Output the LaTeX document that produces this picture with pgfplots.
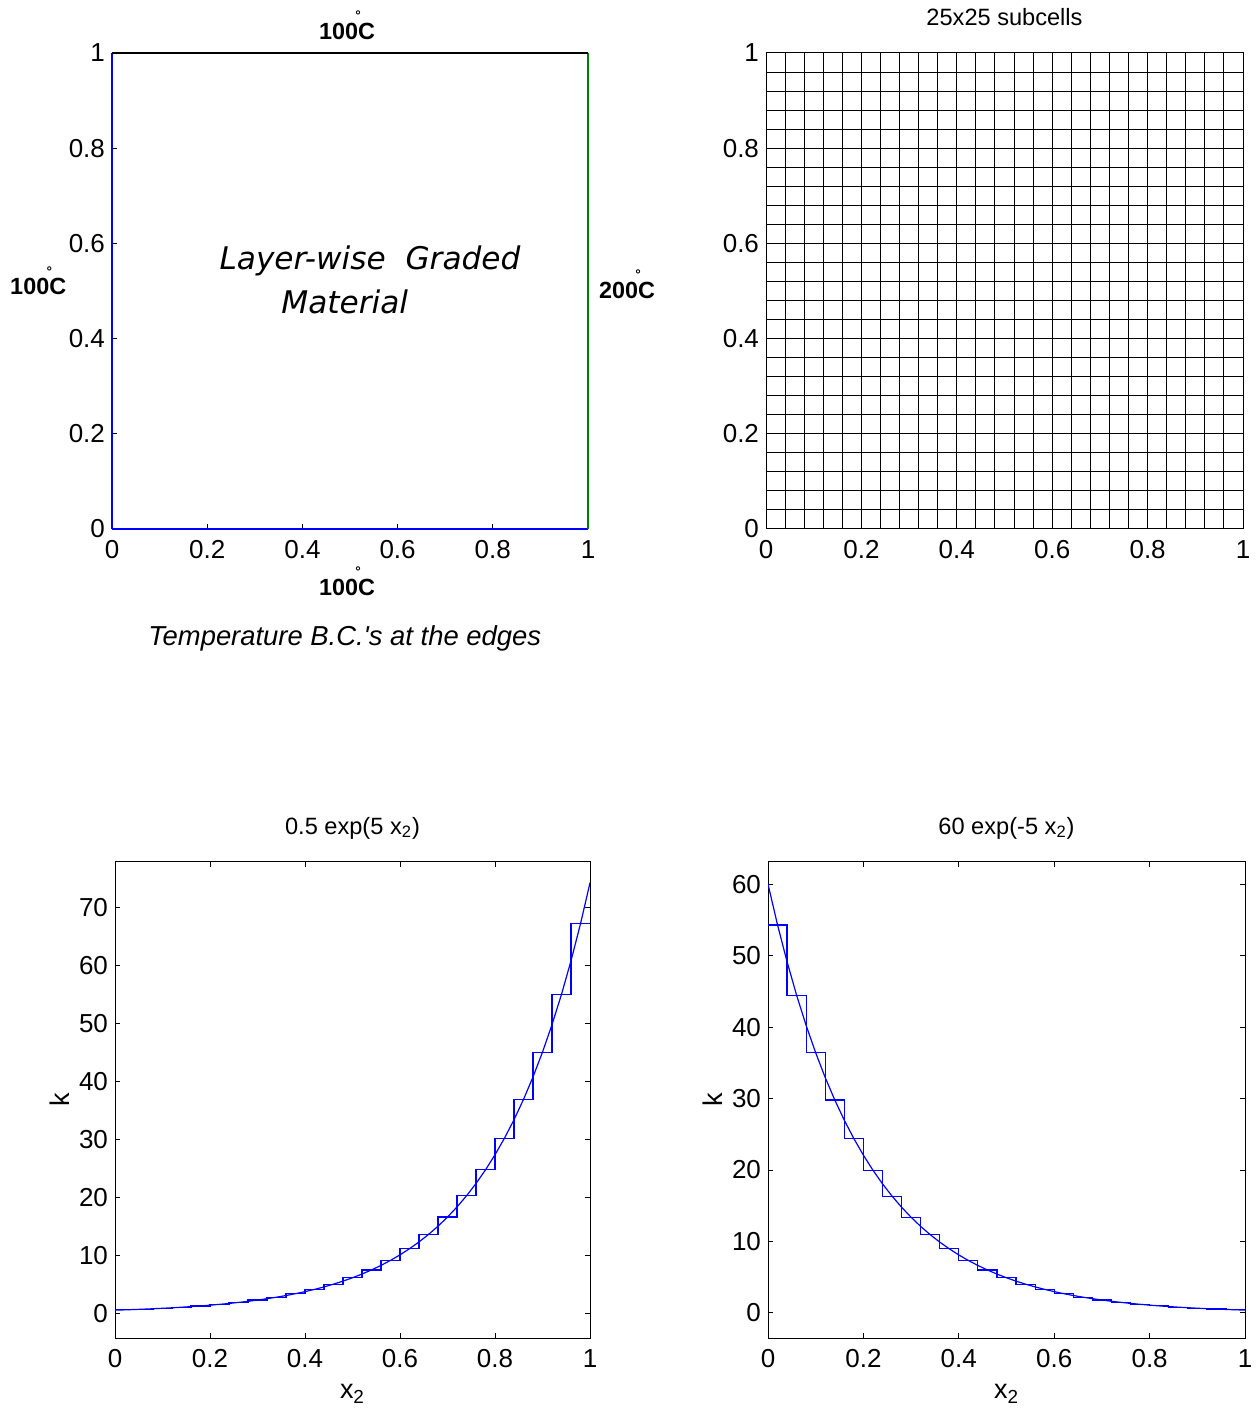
\documentclass[border=0pt]{standalone}
\usepackage{pgfplots}
\pgfplotsset{compat=1.18}
\usepackage{fontspec}
\setmainfont{Liberation Sans}
\newfontfamily\djv{DejaVu Sans}
\definecolor{mgreen}{rgb}{0,0.5,0}
\pgfplotsset{
  matlab/.style={
    scale only axis, anchor=south west,
    tick align=inside, major tick length=2.5pt, minor tick length=0pt,
    /pgf/number format/assume math mode=true,
    ticklabel style={font=\fontsize{13}{15}\selectfont},
    xticklabel style={yshift=-2.2pt},
    label style={font=\fontsize{13.5}{15}\selectfont},
    xlabel style={yshift=-1.5pt},
    ylabel style={yshift=-2pt},
    every axis title shift=0pt,
    title style={font=\fontsize{11.8}{14}\selectfont, at={(0.5,1.058)}, anchor=base},
    axis line style={line width=0.5pt},
    every tick/.style={black, line width=0.5pt},
    xmin=0, xmax=1, xtick={0,0.2,0.4,0.6,0.8,1},
  },
}
\newcommand{\degC}[1]{{\fontsize{11.7}{13}\selectfont\bfseries #1\makebox[0pt]{\smash{\raisebox{0.78em}{\fontsize{6.5}{6.5}\selectfont\djv °}}}C}}
\begin{document}
\begin{tikzpicture}
% top-left
\begin{axis}[matlab, at={(56pt,443.5pt)}, width=238pt, height=238pt,
  ymin=0, ymax=1, ytick={0,0.2,0.4,0.6,0.8,1},
  axis line style={draw=none}, xtick pos=bottom, ytick pos=left, clip=false]
\addplot[blue, line width=0.55pt] coordinates {(0,0) (0,1)};
\addplot[blue, line width=0.55pt] coordinates {(0,0) (1,0)};
\addplot[mgreen, line width=0.55pt] coordinates {(1,0) (1,1)};
\addplot[black, line width=0.55pt] coordinates {(0,1) (1,1)};
\node at (axis cs:0.494,1.046) {\degC{100}};
\node at (axis cs:-0.155,0.51) {\degC{100}};
\node at (axis cs:1.082,0.502) {\degC{200}};
\node at (axis cs:0.494,-0.122) {\degC{100}};
\node at (axis cs:0.489,-0.229) {\fontsize{13.7}{15}\selectfont\itshape Temperature B.C.\textquotesingle s at the edges};
\node at (axis cs:0.542,0.563) {\djv\itshape\fontsize{15.6}{18}\selectfont Layer-wise~ Graded};
\node at (axis cs:0.489,0.477) {\djv\itshape\fontsize{15.6}{18}\selectfont Material};
\end{axis}
% top-right
\begin{axis}[matlab, at={(383pt,443.5pt)}, width=238.5pt, height=238pt,
  ymin=0, ymax=1, ytick={0,0.2,0.4,0.6,0.8,1},
  minor tick num=4, grid=both,
  major grid style={black, line width=0.5pt},
  minor grid style={black, line width=0.5pt},
  title={25x25 subcells}]
\addplot[draw=none] coordinates {(0,0) (1,1)};
\end{axis}
% bottom-left
\begin{axis}[matlab, at={(57.5pt,39pt)}, width=237.5pt, height=238pt,
  ymin=-4.3, ymax=77.8, ytick={0,10,20,30,40,50,60,70},
  xlabel={x\textsubscript{2}}, ylabel={k},
  title={0.5 exp(5 x\textsubscript{2})}]
\addplot[blue, line width=0.6pt, const plot] coordinates {
(0,0.55259) (0.04,0.67493) (0.08,0.82436) (0.12,1.00688) (0.16,1.22980)
(0.20,1.50208) (0.24,1.83465) (0.28,2.24084) (0.32,2.73697) (0.36,3.34295)
(0.40,4.08308) (0.44,4.98709) (0.48,6.09125) (0.52,7.43987) (0.56,9.08707)
(0.60,11.09898) (0.64,13.55632) (0.68,16.55773) (0.72,20.22365) (0.76,24.70122)
(0.80,30.17014) (0.84,36.84990) (0.88,45.00857) (0.92,54.97359) (0.96,67.14489)
(1,67.14489)};
\addplot[blue, line width=0.6pt] coordinates {
(0,0.5) (0.02,0.55259) (0.04,0.61070) (0.06,0.67493) (0.08,0.74591) (0.10,0.82436)
(0.12,0.91106) (0.14,1.00688) (0.16,1.11277) (0.18,1.22980) (0.20,1.35914)
(0.22,1.50208) (0.24,1.66006) (0.26,1.83465) (0.28,2.02760) (0.30,2.24084)
(0.32,2.47652) (0.34,2.73697) (0.36,3.02482) (0.38,3.34295) (0.40,3.69453)
(0.42,4.08308) (0.44,4.51251) (0.46,4.98709) (0.48,5.51159) (0.50,6.09125)
(0.52,6.73187) (0.54,7.43987) (0.56,8.22232) (0.58,9.08707) (0.60,10.04277)
(0.62,11.09898) (0.64,12.26627) (0.66,13.55632) (0.68,14.98205) (0.70,16.55773)
(0.72,18.29912) (0.74,20.22365) (0.76,22.35059) (0.78,24.70122) (0.80,27.29908)
(0.82,30.17014) (0.84,33.34317) (0.86,36.84990) (0.88,40.72543) (0.90,45.00857)
(0.92,49.74216) (0.94,54.97359) (0.96,60.75521) (0.98,67.14489) (1.00,74.20658)};
\end{axis}
% bottom-right
\begin{axis}[matlab, at={(384pt,39pt)}, width=238.5pt, height=238pt,
  ymin=-3.5, ymax=63.1, ytick={0,10,20,30,40,50,60},
  xlabel={x\textsubscript{2}}, ylabel={k},
  title={60 exp(-5 x\textsubscript{2})}]
\addplot[blue, line width=0.6pt, const plot] coordinates {
(0,54.2902) (0.04,44.4491) (0.08,36.3918) (0.12,29.7951) (0.16,24.3942)
(0.20,19.9723) (0.24,16.3519) (0.28,13.3878) (0.32,10.9610) (0.36,8.97414)
(0.40,7.34736) (0.44,6.01554) (0.48,4.92510) (0.52,4.03236) (0.56,3.30138)
(0.60,2.70294) (0.64,2.21298) (0.68,1.81182) (0.72,1.48344) (0.76,1.21452)
(0.80,0.99438) (0.84,0.81414) (0.88,0.66654) (0.92,0.54570) (0.96,0.44682)
(1,0.44682)};
\addplot[blue, line width=0.6pt] coordinates {
(0,60) (0.02,54.2902) (0.04,49.1238) (0.06,44.4491) (0.08,40.2192) (0.10,36.3918)
(0.12,32.9287) (0.14,29.7951) (0.16,26.9597) (0.18,24.3942) (0.20,22.0728)
(0.22,19.9723) (0.24,18.0717) (0.26,16.3519) (0.28,14.7958) (0.30,13.3878)
(0.32,12.1138) (0.34,10.9610) (0.36,9.91793) (0.38,8.97414) (0.40,8.12012)
(0.42,7.34736) (0.44,6.64819) (0.46,6.01554) (0.48,5.44308) (0.50,4.92510)
(0.52,4.45642) (0.54,4.03236) (0.56,3.64861) (0.58,3.30138) (0.60,2.98722)
(0.62,2.70294) (0.64,2.44572) (0.66,2.21298) (0.68,2.00238) (0.70,1.81182)
(0.72,1.63943) (0.74,1.48344) (0.76,1.34226) (0.78,1.21452) (0.80,1.09894)
(0.82,0.99438) (0.84,0.89975) (0.86,0.81414) (0.88,0.73665) (0.90,0.66654)
(0.92,0.60310) (0.94,0.54570) (0.96,0.49379) (0.98,0.44682) (1.00,0.40428)};
\end{axis}
\pgfresetboundingbox
\path (0,0) rectangle (628.5pt,708pt);
\end{tikzpicture}
\end{document}
